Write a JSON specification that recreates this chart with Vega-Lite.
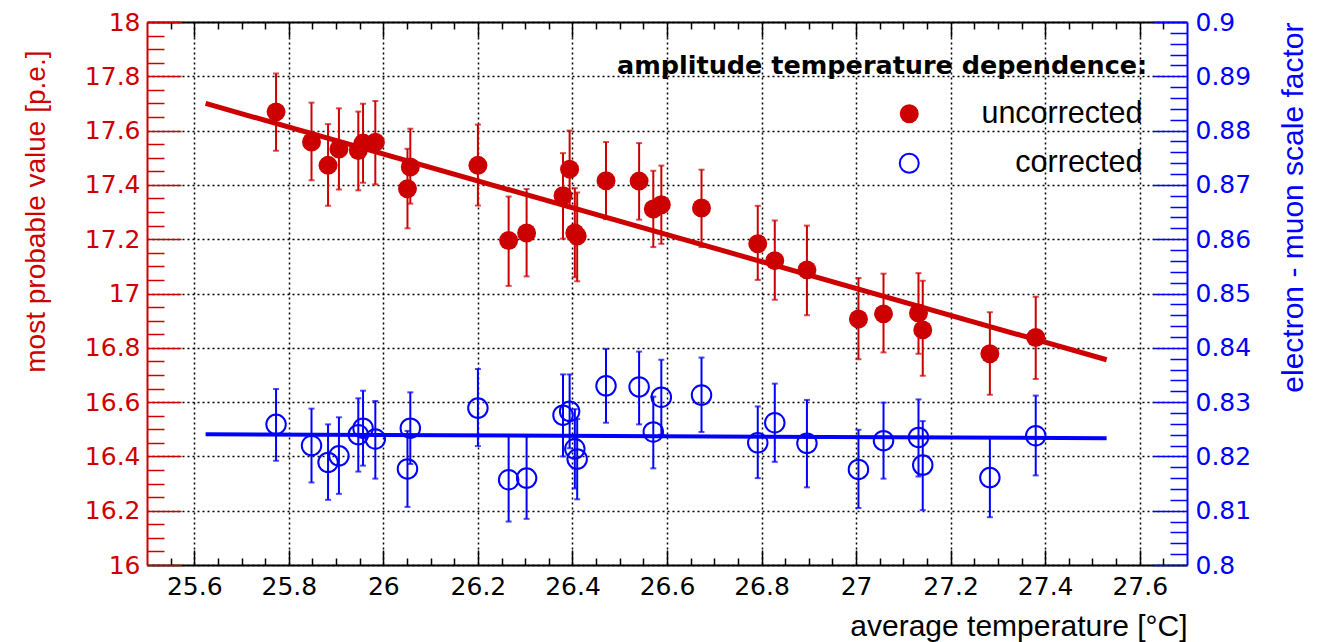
{
  "$schema": "https://vega.github.io/schema/vega-lite/v6.json",
  "width": 1040,
  "height": 543,
  "autosize": {"type": "none"},
  "padding": {"left": 147, "top": 22, "right": 150, "bottom": 77},
  "background": "white",
  "config": {
    "view": {"stroke": null},
    "axis": {"labelFont": "DejaVu Sans", "labelFontSize": 25, "titleFont": "Liberation Sans", "titleFontWeight": "normal", "labelFlush": false, "labelOverlap": false}
  },
  "datasets": {
    "pts": [
      {"T": 25.773, "amp": 17.669, "amp_lo": 17.526, "amp_hi": 17.810, "sf": 0.8259, "sf_lo": 0.8192, "sf_hi": 0.8324},
      {"T": 25.848, "amp": 17.558, "amp_lo": 17.417, "amp_hi": 17.703, "sf": 0.8220, "sf_lo": 0.8152, "sf_hi": 0.8288},
      {"T": 25.883, "amp": 17.472, "amp_lo": 17.323, "amp_hi": 17.624, "sf": 0.8189, "sf_lo": 0.8120, "sf_hi": 0.8259},
      {"T": 25.906, "amp": 17.532, "amp_lo": 17.383, "amp_hi": 17.682, "sf": 0.8201, "sf_lo": 0.8131, "sf_hi": 0.8272},
      {"T": 25.947, "amp": 17.527, "amp_lo": 17.380, "amp_hi": 17.670, "sf": 0.8240, "sf_lo": 0.8172, "sf_hi": 0.8307},
      {"T": 25.957, "amp": 17.554, "amp_lo": 17.408, "amp_hi": 17.699, "sf": 0.8252, "sf_lo": 0.8183, "sf_hi": 0.8321},
      {"T": 25.983, "amp": 17.557, "amp_lo": 17.402, "amp_hi": 17.709, "sf": 0.8232, "sf_lo": 0.8159, "sf_hi": 0.8302},
      {"T": 26.051, "amp": 17.386, "amp_lo": 17.240, "amp_hi": 17.533, "sf": 0.8177, "sf_lo": 0.8107, "sf_hi": 0.8247},
      {"T": 26.057, "amp": 17.466, "amp_lo": 17.331, "amp_hi": 17.607, "sf": 0.8252, "sf_lo": 0.8186, "sf_hi": 0.8318},
      {"T": 26.200, "amp": 17.472, "amp_lo": 17.324, "amp_hi": 17.622, "sf": 0.8289, "sf_lo": 0.8219, "sf_hi": 0.8361},
      {"T": 26.265, "amp": 17.195, "amp_lo": 17.028, "amp_hi": 17.357, "sf": 0.8157, "sf_lo": 0.8080, "sf_hi": 0.8238},
      {"T": 26.303, "amp": 17.223, "amp_lo": 17.063, "amp_hi": 17.385, "sf": 0.8160, "sf_lo": 0.8085, "sf_hi": 0.8237},
      {"T": 26.380, "amp": 17.360, "amp_lo": 17.202, "amp_hi": 17.517, "sf": 0.8276, "sf_lo": 0.8200, "sf_hi": 0.8351},
      {"T": 26.394, "amp": 17.458, "amp_lo": 17.316, "amp_hi": 17.600, "sf": 0.8283, "sf_lo": 0.8215, "sf_hi": 0.8351},
      {"T": 26.405, "amp": 17.223, "amp_lo": 17.060, "amp_hi": 17.388, "sf": 0.8214, "sf_lo": 0.8141, "sf_hi": 0.8287},
      {"T": 26.410, "amp": 17.212, "amp_lo": 17.045, "amp_hi": 17.372, "sf": 0.8195, "sf_lo": 0.8121, "sf_hi": 0.8269},
      {"T": 26.471, "amp": 17.415, "amp_lo": 17.274, "amp_hi": 17.558, "sf": 0.8330, "sf_lo": 0.8262, "sf_hi": 0.8398},
      {"T": 26.541, "amp": 17.414, "amp_lo": 17.272, "amp_hi": 17.554, "sf": 0.8328, "sf_lo": 0.8259, "sf_hi": 0.8393},
      {"T": 26.571, "amp": 17.311, "amp_lo": 17.171, "amp_hi": 17.452, "sf": 0.8245, "sf_lo": 0.8178, "sf_hi": 0.8310},
      {"T": 26.588, "amp": 17.327, "amp_lo": 17.183, "amp_hi": 17.471, "sf": 0.8309, "sf_lo": 0.8240, "sf_hi": 0.8378},
      {"T": 26.673, "amp": 17.315, "amp_lo": 17.171, "amp_hi": 17.456, "sf": 0.8313, "sf_lo": 0.8245, "sf_hi": 0.8382},
      {"T": 26.792, "amp": 17.183, "amp_lo": 17.050, "amp_hi": 17.323, "sf": 0.8225, "sf_lo": 0.8160, "sf_hi": 0.8292},
      {"T": 26.828, "amp": 17.121, "amp_lo": 16.977, "amp_hi": 17.269, "sf": 0.8262, "sf_lo": 0.8190, "sf_hi": 0.8334},
      {"T": 26.896, "amp": 17.087, "amp_lo": 16.920, "amp_hi": 17.250, "sf": 0.8224, "sf_lo": 0.8143, "sf_hi": 0.8304},
      {"T": 27.005, "amp": 16.906, "amp_lo": 16.758, "amp_hi": 17.057, "sf": 0.8176, "sf_lo": 0.8105, "sf_hi": 0.8249},
      {"T": 27.058, "amp": 16.925, "amp_lo": 16.783, "amp_hi": 17.073, "sf": 0.8229, "sf_lo": 0.8159, "sf_hi": 0.8299},
      {"T": 27.132, "amp": 16.928, "amp_lo": 16.778, "amp_hi": 17.075, "sf": 0.8235, "sf_lo": 0.8163, "sf_hi": 0.8305},
      {"T": 27.141, "amp": 16.866, "amp_lo": 16.697, "amp_hi": 17.047, "sf": 0.8184, "sf_lo": 0.8101, "sf_hi": 0.8265},
      {"T": 27.283, "amp": 16.778, "amp_lo": 16.627, "amp_hi": 16.931, "sf": 0.8161, "sf_lo": 0.8088, "sf_hi": 0.8234},
      {"T": 27.380, "amp": 16.838, "amp_lo": 16.685, "amp_hi": 16.988, "sf": 0.8238, "sf_lo": 0.8165, "sf_hi": 0.8312}
    ],
    "fit": [
      {"T": 25.624, "amp": 17.700, "sf": 0.82409},
      {"T": 27.530, "amp": 16.756, "sf": 0.82335}
    ]
  },
  "layer": [
    {
      "layer": [
        {
          "data": {"name": "fit"},
          "mark": {"type": "line", "color": "#cc0000", "strokeWidth": 5},
          "encoding": {
            "x": {"field": "T", "type": "quantitative", "scale": {"domain": [25.5, 27.7], "nice": false, "zero": false},
              "axis": {"orient": "bottom", "values": [25.6, 25.8, 26, 26.2, 26.4, 26.6, 26.8, 27, 27.2, 27.4, 27.6], "format": "~g",
                "labelColor": "black", "labelPadding": 24, "tickSize": -15, "tickColor": "black", "tickWidth": 1.5,
                "domainColor": "black", "domainWidth": 2, "grid": true, "gridColor": "black", "gridDash": [2, 3], "gridWidth": 1.5,
                "title": "average temperature [°C]", "titleFontSize": 30, "titleColor": "black", "titleAnchor": "end", "titlePadding": 12}},
            "y": {"field": "amp", "type": "quantitative", "scale": {"domain": [16, 18], "nice": false, "zero": false},
              "axis": {"orient": "left", "values": [16, 16.2, 16.4, 16.6, 16.8, 17, 17.2, 17.4, 17.6, 17.8, 18], "format": "~g",
                "labelColor": "#cc0000", "labelPadding": 41, "tickSize": -34, "tickColor": "#cc0000", "tickWidth": 1.5,
                "domainColor": "#cc0000", "domainWidth": 2, "grid": true, "gridColor": "black", "gridDash": [2, 3], "gridWidth": 1.5,
                "title": "most probable value [p.e.]", "titleFontSize": 28, "titleColor": "#cc0000", "titleAnchor": "end", "titleAngle": 270, "titleY": 28, "titlePadding": 34}}
          }
        },
        {
          "data": {"name": "pts"},
          "mark": {"type": "errorbar", "color": "#cc0000", "thickness": 2, "ticks": {"size": 6, "thickness": 2, "color": "#cc0000"}},
          "encoding": {
            "x": {"field": "T", "type": "quantitative", "scale": {"domain": [25.5, 27.7], "nice": false, "zero": false}, "axis": null},
            "y": {"field": "amp_lo", "type": "quantitative", "scale": {"domain": [16, 18], "nice": false, "zero": false}, "axis": null},
            "y2": {"field": "amp_hi"}
          }
        },
        {
          "data": {"name": "pts"},
          "mark": {"type": "point", "shape": "circle", "filled": true, "size": 360, "opacity": 1},
          "encoding": {
            "x": {"field": "T", "type": "quantitative", "scale": {"domain": [25.5, 27.7], "nice": false, "zero": false}, "axis": null},
            "y": {"field": "amp", "type": "quantitative", "scale": {"domain": [16, 18], "nice": false, "zero": false}, "axis": null},
            "fill": {"datum": "uncorrected", "type": "nominal",
              "scale": {"domain": ["uncorrected"], "range": ["#cc0000"]},
              "legend": {"orient": "none", "legendX": 470, "legendY": 32, "padding": 0,
                "title": "amplitude temperature dependence:", "titleFont": "DejaVu Sans", "titleFontSize": 25.5, "titleFontWeight": "bold", "titleColor": "black", "titlePadding": 19, "titleLimit": 900,
                "labelFont": "Liberation Sans", "labelFontSize": 30.5, "labelColor": "black", "labelAlign": "right", "labelOffset": 218, "labelLimit": 600,
                "symbolOffset": 277, "symbolSize": 360, "symbolType": "circle", "symbolFillColor": "#cc0000", "symbolStrokeWidth": 0}}
          }
        },
        {
          "data": {"name": "fit"},
          "mark": {"type": "point", "opacity": 0},
          "encoding": {
            "x": {"field": "T", "type": "quantitative", "scale": {"domain": [25.5, 27.7], "nice": false, "zero": false},
              "axis": {"orient": "bottom", "values": [25.55, 25.65, 25.7, 25.75, 25.85, 25.9, 25.95, 26.05, 26.1, 26.15, 26.25, 26.3, 26.35, 26.45, 26.5, 26.55, 26.65, 26.7, 26.75, 26.85, 26.9, 26.95, 27.05, 27.1, 27.15, 27.25, 27.3, 27.35, 27.45, 27.5, 27.55, 27.65],
                "labels": false, "domain": false, "grid": false, "tickSize": -7, "tickColor": "black", "tickWidth": 1.5, "title": null}},
            "y": {"field": "amp", "type": "quantitative", "scale": {"domain": [16, 18], "nice": false, "zero": false},
              "axis": {"orient": "left", "values": [16.05, 16.1, 16.15, 16.25, 16.3, 16.35, 16.45, 16.5, 16.55, 16.65, 16.7, 16.75, 16.85, 16.9, 16.95, 17.05, 17.1, 17.15, 17.25, 17.3, 17.35, 17.45, 17.5, 17.55, 17.65, 17.7, 17.75, 17.85, 17.9, 17.95],
                "labels": false, "domain": false, "grid": false, "tickSize": -17, "tickColor": "#cc0000", "tickWidth": 1.5, "title": null}}
          }
        },
        {
          "data": {"name": "fit"},
          "mark": {"type": "point", "opacity": 0},
          "encoding": {
            "x": {"field": "T", "type": "quantitative", "scale": {"domain": [25.5, 27.7], "nice": false, "zero": false},
              "axis": {"orient": "top", "values": [25.6, 25.8, 26, 26.2, 26.4, 26.6, 26.8, 27, 27.2, 27.4, 27.6],
                "labels": false, "domain": true, "domainColor": "black", "domainWidth": 2, "grid": false, "tickSize": -15, "tickColor": "black", "tickWidth": 1.5, "title": null}},
            "y": {"field": "amp", "type": "quantitative", "scale": {"domain": [16, 18], "nice": false, "zero": false}, "axis": null}
          }
        },
        {
          "data": {"name": "fit"},
          "mark": {"type": "point", "opacity": 0},
          "encoding": {
            "x": {"field": "T", "type": "quantitative", "scale": {"domain": [25.5, 27.7], "nice": false, "zero": false},
              "axis": {"orient": "top", "values": [25.55, 25.65, 25.7, 25.75, 25.85, 25.9, 25.95, 26.05, 26.1, 26.15, 26.25, 26.3, 26.35, 26.45, 26.5, 26.55, 26.65, 26.7, 26.75, 26.85, 26.9, 26.95, 27.05, 27.1, 27.15, 27.25, 27.3, 27.35, 27.45, 27.5, 27.55, 27.65],
                "labels": false, "domain": false, "grid": false, "tickSize": -7, "tickColor": "black", "tickWidth": 1.5, "title": null}},
            "y": {"field": "amp", "type": "quantitative", "scale": {"domain": [16, 18], "nice": false, "zero": false}, "axis": null}
          }
        }
      ],
      "resolve": {"axis": {"x": "independent", "y": "independent"}}
    },
    {
      "layer": [
        {
          "data": {"name": "fit"},
          "mark": {"type": "line", "color": "#0000ff", "strokeWidth": 4},
          "encoding": {
            "x": {"field": "T", "type": "quantitative", "scale": {"domain": [25.5, 27.7], "nice": false, "zero": false}, "axis": null},
            "y": {"field": "sf", "type": "quantitative", "scale": {"domain": [0.8, 0.9], "nice": false, "zero": false},
              "axis": {"orient": "right", "values": [0.8, 0.81, 0.82, 0.83, 0.84, 0.85, 0.86, 0.87, 0.88, 0.89, 0.9], "format": "~g",
                "labelColor": "#0000ff", "labelPadding": 42, "tickSize": -34, "tickColor": "#0000ff", "tickWidth": 1.5,
                "domainColor": "#0000ff", "domainWidth": 2, "grid": false,
                "title": "electron - muon scale factor", "titleFontSize": 30, "titleColor": "#0000ff", "titleAnchor": "end", "titleAngle": 270, "titleBaseline": "top", "titlePadding": 28}}
          }
        },
        {
          "data": {"name": "pts"},
          "mark": {"type": "errorbar", "color": "#0000ff", "thickness": 2, "ticks": {"size": 6, "thickness": 2, "color": "#0000ff"}},
          "encoding": {
            "x": {"field": "T", "type": "quantitative", "scale": {"domain": [25.5, 27.7], "nice": false, "zero": false}, "axis": null},
            "y": {"field": "sf_lo", "type": "quantitative", "scale": {"domain": [0.8, 0.9], "nice": false, "zero": false}, "axis": null},
            "y2": {"field": "sf_hi"}
          }
        },
        {
          "data": {"name": "pts"},
          "mark": {"type": "point", "shape": "circle", "filled": false, "size": 380, "strokeWidth": 2, "opacity": 1},
          "encoding": {
            "x": {"field": "T", "type": "quantitative", "scale": {"domain": [25.5, 27.7], "nice": false, "zero": false}, "axis": null},
            "y": {"field": "sf", "type": "quantitative", "scale": {"domain": [0.8, 0.9], "nice": false, "zero": false}, "axis": null},
            "stroke": {"datum": "corrected", "type": "nominal",
              "scale": {"domain": ["corrected"], "range": ["#0000ff"]},
              "legend": {"orient": "none", "legendX": 470, "legendY": 126, "padding": 0, "title": null,
                "labelFont": "Liberation Sans", "labelFontSize": 30.5, "labelColor": "black", "labelAlign": "right", "labelOffset": 218, "labelLimit": 600,
                "symbolOffset": 277, "symbolSize": 360, "symbolType": "circle", "symbolFillColor": "transparent", "symbolStrokeWidth": 2}}
          }
        },
        {
          "data": {"name": "fit"},
          "mark": {"type": "point", "opacity": 0},
          "encoding": {
            "x": {"field": "T", "type": "quantitative", "scale": {"domain": [25.5, 27.7], "nice": false, "zero": false}, "axis": null},
            "y": {"field": "sf", "type": "quantitative", "scale": {"domain": [0.8, 0.9], "nice": false, "zero": false},
              "axis": {"orient": "right", "values": [0.802, 0.804, 0.806, 0.808, 0.812, 0.814, 0.816, 0.818, 0.822, 0.824, 0.826, 0.828, 0.832, 0.834, 0.836, 0.838, 0.842, 0.844, 0.846, 0.848, 0.852, 0.854, 0.856, 0.858, 0.862, 0.864, 0.866, 0.868, 0.872, 0.874, 0.876, 0.878, 0.882, 0.884, 0.886, 0.888, 0.892, 0.894, 0.896, 0.898],
                "labels": false, "domain": false, "grid": false, "tickSize": -17, "tickColor": "#0000ff", "tickWidth": 1.5, "title": null}}
          }
        }
      ],
      "resolve": {"axis": {"y": "independent"}}
    }
  ],
  "resolve": {"scale": {"y": "independent"}, "axis": {"x": "independent", "y": "independent"}}
}
